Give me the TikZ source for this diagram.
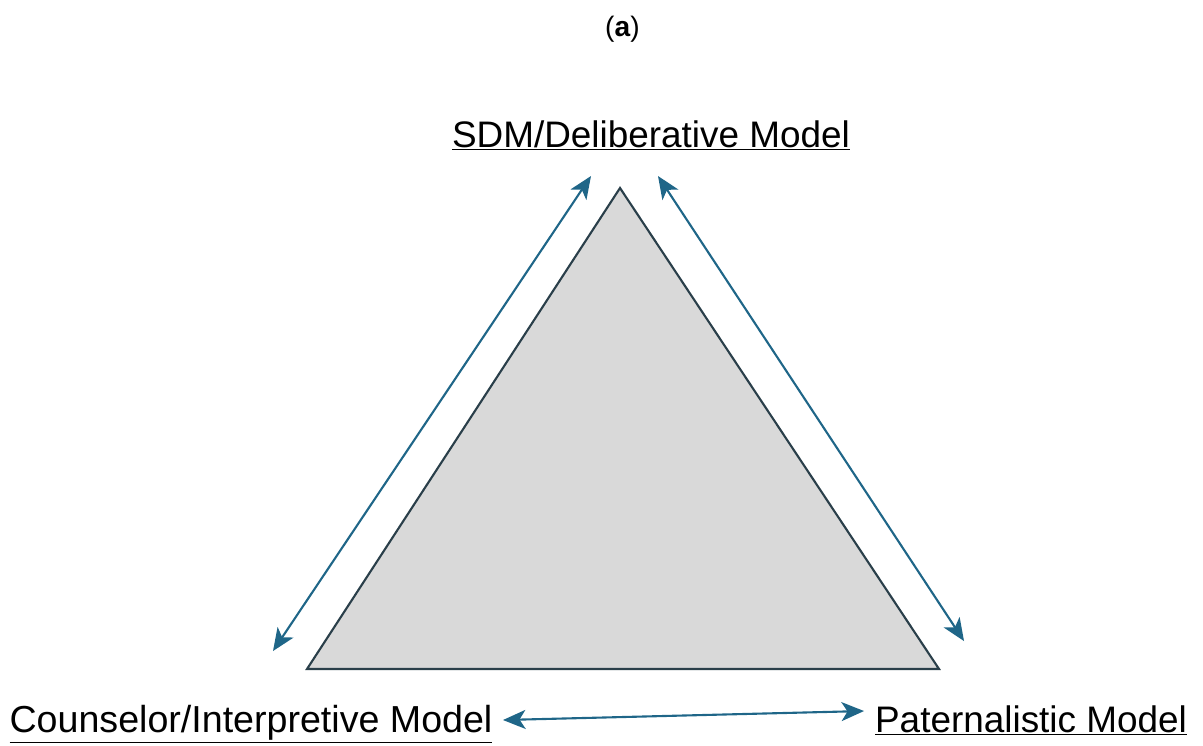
\documentclass[tikz,border=0pt]{standalone}
\usepackage{fontspec}
\setmainfont{Liberation Sans}
\usetikzlibrary{arrows.meta}
\definecolor{arrowblue}{HTML}{1F6688}
\definecolor{tribg}{HTML}{D9D9D9}
\definecolor{triedge}{HTML}{2A3F4A}
\pgfdeclarelayer{bg}
\pgfsetlayers{bg,main}
\tikzset{
    every node/.style={inner sep=0mm, draw=none},
    model/.style={font=\fontsize{21}{25}\selectfont, anchor=base},
    link/.style={arrowblue, line width=1.2pt, {Stealth[length=4.5mm,width=3.8mm,inset=1.2mm]}-{Stealth[length=4.5mm,width=3.8mm,inset=1.2mm]}}
}
\begin{document}
\begin{tikzpicture}[x=0.2mm, y=-0.2mm]
        \useasboundingbox (0,0) rectangle (1203,745);
        \node (t0) at (622.5,29) {\fontsize{16}{18}\selectfont (\textbf{a})};
        \node (m0) [model] at (651,147) {\underline{SDM/Deliberative Model}};
        \node (m1) [model] at (251,732) {\fontsize{21.4}{25}\selectfont\underline{Counselor/Interpretive Model}};
        \node (m2) [model] at (1031,732) {\underline{Paternalistic Model}};
        \coordinate (v0) at (620,188);
        \coordinate (v1) at (307,669);
        \coordinate (v2) at (939,669);
        \coordinate (a0) at (591,176);
        \coordinate (a1) at (273,651);
        \coordinate (a2) at (658,176);
        \coordinate (a3) at (964,641);
        \coordinate (a4) at (503,720);
        \coordinate (a5) at (864,711);
        \begin{pgfonlayer}{bg}
                \filldraw [fill=tribg, draw=triedge, line width=1.2pt, line join=miter] (v0) -- (v1) -- (v2) -- cycle;
        \end{pgfonlayer}
        \draw [link] (a1) -- (a0);
        \draw [link] (a2) -- (a3);
        \draw [link] (a4) -- (a5);
\end{tikzpicture}
\end{document}
